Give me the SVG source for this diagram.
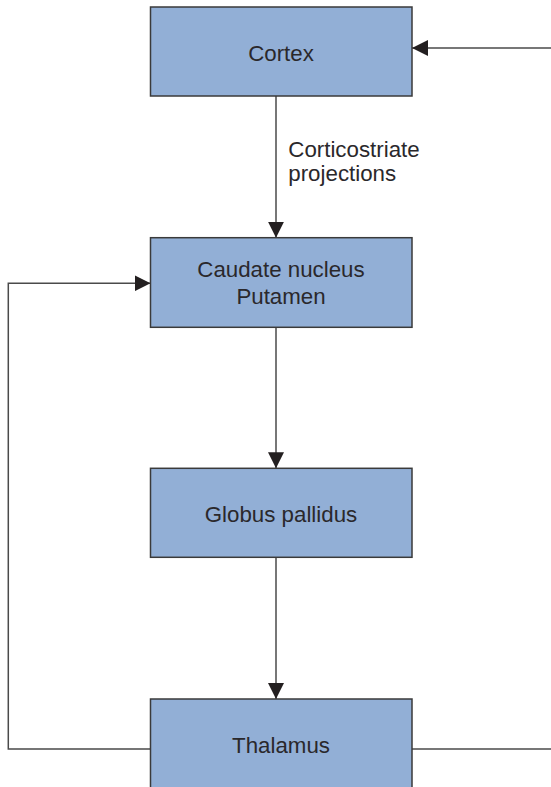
<svg xmlns="http://www.w3.org/2000/svg" width="551" height="787" viewBox="0 0 551 787">
<style>
.box{fill:#92afd6;stroke:#3a3a3a;stroke-width:1.5}
.lbl{font-family:"Liberation Sans",Arial,sans-serif;font-size:22.3px;fill:#2a282b}
.c{text-anchor:middle}
.ln{fill:none;stroke:#4a4a4a;stroke-width:1.5}
</style>
<defs>
<marker id="ah" markerUnits="userSpaceOnUse" markerWidth="16" markerHeight="16" viewBox="0 0 16 16" refX="16" refY="8" orient="auto">
<path d="M0,0 L16,8 L0,16 z" fill="#231f20"/>
</marker>
</defs>
<rect width="551" height="787" fill="#ffffff"/>
<g id="connectors">
<path class="ln" d="M551,48 L412,48" marker-end="url(#ah)"/>
<path class="ln" d="M276,96 L276,237.7" marker-end="url(#ah)"/>
<path class="ln" d="M276,327.3 L276,468.3" marker-end="url(#ah)"/>
<path class="ln" d="M276,557.3 L276,699" marker-end="url(#ah)"/>
<path class="ln" d="M150.5,749 L8.3,749 L8.3,283.3 L150.5,283.3" marker-end="url(#ah)"/>
<path class="ln" d="M412,749 L551,749"/>
<text class="lbl" x="288.3" y="157.3">Corticostriate</text>
<text class="lbl" x="288.3" y="181">projections</text>
</g>
<g id="cortex">
<rect class="box" x="150.5" y="7" width="261.5" height="89"/>
<text class="lbl c" x="281" y="61">Cortex</text>
</g>
<g id="caudate">
<rect class="box" x="150.5" y="237.7" width="261.5" height="89.6"/>
<text class="lbl c" x="281" y="276.7">Caudate nucleus</text>
<text class="lbl c" x="281" y="304">Putamen</text>
</g>
<g id="globus">
<rect class="box" x="150.5" y="468.3" width="261.5" height="89"/>
<text class="lbl c" x="281" y="521.7">Globus pallidus</text>
</g>
<g id="thalamus">
<rect class="box" x="150.5" y="699" width="261.5" height="100"/>
<text class="lbl c" x="281" y="752.7">Thalamus</text>
</g>
</svg>
